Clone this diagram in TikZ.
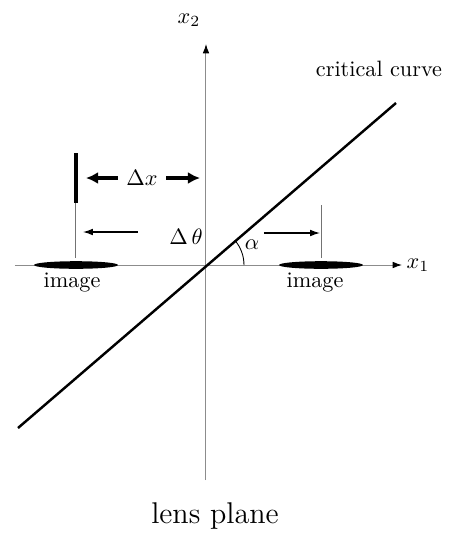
\documentclass[tikz,border=0pt]{standalone}
\usetikzlibrary{arrows.meta}
\begin{document}
\begin{tikzpicture}[x=0.45pt,y=-0.45pt,
  axis/.style={draw=black!45,line width=0.45pt},
  axtip/.style={-{Latex[length=4.2pt,width=3pt,color=black]}},
  thinarrow/.style={draw=black,line width=0.55pt,-{Latex[length=4.4pt,width=3pt]}},
  thickarrow/.style={draw=black,line width=1.4pt,-{Latex[length=5.5pt,width=5.5pt]}},
  guide/.style={draw=black!55,line width=0.45pt},
  lbl/.style={inner sep=0pt,font=\fontsize{10}{12}\selectfont}]
\useasboundingbox (0,0) rectangle (450,537);
% axes
\coordinate (O) at (206,265);
\coordinate (xs) at (15,265);
\coordinate (xe) at (402,265);
\coordinate (ys) at (206,480);
\coordinate (ye) at (206,44);
\draw[axis,axtip] (xs) -- (xe);
\draw[axis,axtip] (ys) -- (ye);
\node[lbl] (x1) at (418,265) {$x_1$};
\node[lbl] (x2) at (189,20) {$x_2$};
% critical curve
\coordinate (cc1) at (18,428);
\coordinate (cc2) at (396,103);
\draw[line width=1.1pt] (cc1) -- (cc2);
\node[lbl] (cclbl) at (379,69) {critical curve};
% angle
\draw[line width=0.4pt] (244,265) arc[start angle=0,end angle=40.7,x radius=38,y radius=-38];
\node[lbl] (alpha) at (252,245) {$\alpha$};
% images
\fill (76,265) ellipse [x radius=42, y radius=3.8];
\fill (321,265) ellipse [x radius=42, y radius=3.8];
\node[lbl] (imgL) at (72,282) {image};
\node[lbl] (imgR) at (315,282) {image};
% left markers
\coordinate (barT) at (76,153);
\coordinate (barB) at (76,203);
\coordinate (lineB) at (76,258);
\draw[line width=1.4pt] (barT) -- (barB);
\draw[guide] (barB) -- (lineB);
\node[lbl] (dx) at (142,178) {$\Delta x$};
\coordinate (dxL) at (86,178);
\coordinate (dxR) at (200,178);
\draw[thickarrow] (dx.west) ++(-8,0) -- (dxL);
\draw[thickarrow] (dx.east) ++(8,0) -- (dxR);
\node[lbl] (dth) at (186,237) {$\Delta\,\theta$};
\coordinate (thA) at (138,232);
\coordinate (thB) at (83,232);
\draw[thinarrow] (thA) -- (thB);
% right markers
\coordinate (rT) at (322,205);
\coordinate (rB) at (322,258);
\draw[guide] (rT) -- (rB);
\coordinate (raA) at (264,233);
\coordinate (raB) at (320,233);
\draw[thinarrow] (raA) -- (raB);
% title
\node[inner sep=0pt,font=\fontsize{13.5}{16}\selectfont] (title) at (215,516) {lens plane};
\end{tikzpicture}
\end{document}
